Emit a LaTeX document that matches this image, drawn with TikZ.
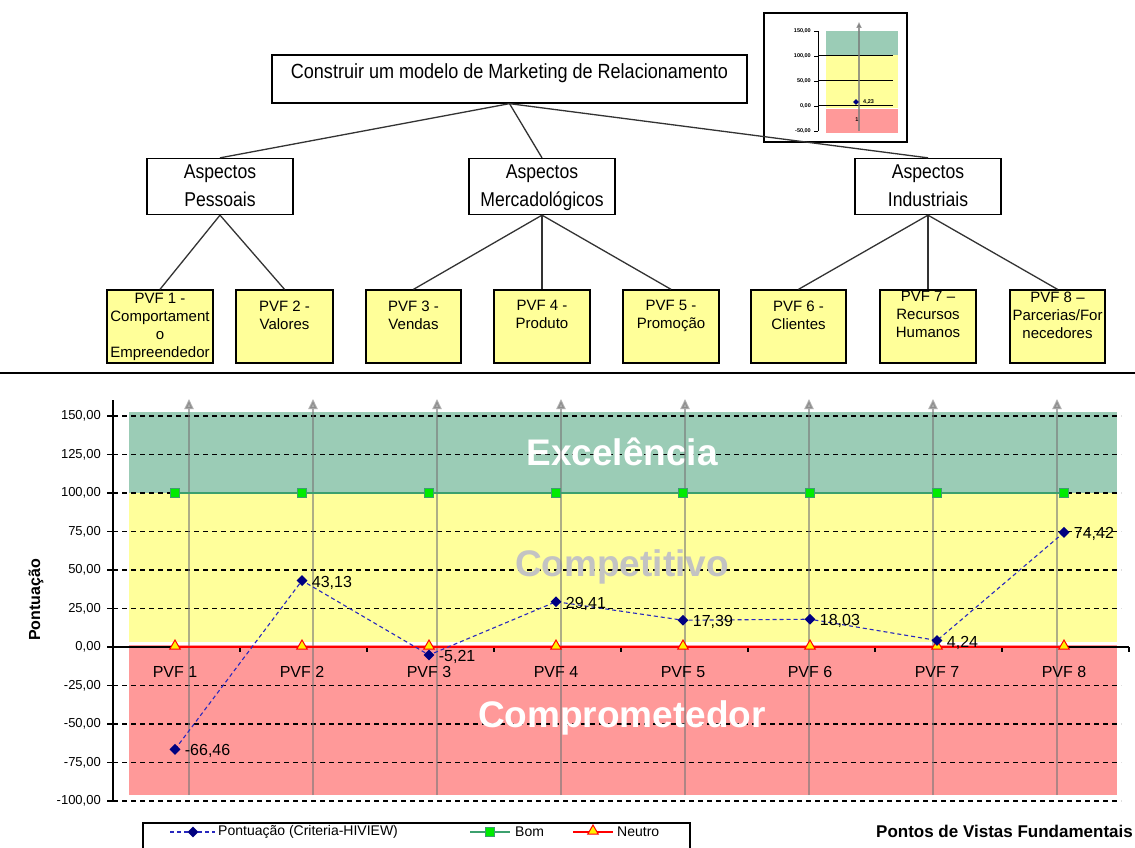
\documentclass[tikz,border=0pt]{standalone}
\usepackage{fontspec}
\setmainfont{Liberation Sans}
\newfontfamily\treefont[FakeStretch=0.88]{Liberation Sans}
\usetikzlibrary{arrows.meta,shapes.geometric}

\definecolor{excgreen}{RGB}{155,204,182}
\definecolor{compyellow}{RGB}{255,255,155}
\definecolor{comppink}{RGB}{255,153,153}
\definecolor{pvfyellow}{RGB}{255,255,153}
\definecolor{navyblue}{RGB}{0,0,128}
\definecolor{dashblue}{RGB}{40,40,190}
\definecolor{bomgreen}{RGB}{60,160,110}
\definecolor{markgreen}{RGB}{0,235,0}
\definecolor{arrowgray}{RGB}{120,120,120}
\definecolor{softgray}{RGB}{195,195,195}

\begin{document}
\begin{tikzpicture}[x=1pt,y=-1pt,
  treebox/.style={draw=black, line width=1.3, fill=white, inner sep=0, align=center},
  pvfbox/.style={draw=black, line width=1.3, fill=pvfyellow, minimum width=96, minimum height=73,
                 inner sep=0, align=center, font=\fontsize{15}{18}\selectfont},
  link/.style={draw=black!80, line width=1.3},
  grid/.style={draw=black, line width=1.2, dash pattern=on 5 off 4},
  gaxis/.style={draw=black, line width=1.2},
  vecarrow/.style={draw=arrowgray, opacity=0.6, line width=2, -{Triangle[length=10,width=9]}},
  ptmark/.style={diamond, fill=navyblue, minimum width=11, minimum height=11, inner sep=0},
  bommark/.style={rectangle, fill=markgreen, draw=bomgreen, line width=1, minimum size=9, inner sep=0},
  neumark/.style={regular polygon, regular polygon sides=3, fill=yellow, draw=red, line width=1,
                  minimum size=12, inner sep=0},
  ticklbl/.style={anchor=east, font=\fontsize{13}{15}\selectfont, inner sep=0},
  datalbl/.style={anchor=west, font=\fontsize{16}{18}\selectfont, inner sep=1},
  bandlbl/.style={font=\fontsize{37}{40}\selectfont\bfseries, inner sep=0},
  minilbl/.style={font=\fontsize{5.5}{6}\selectfont\bfseries, inner sep=0}
]
\useasboundingbox (0,0) rectangle (1135,848);
\fill[white] (0,0) rectangle (1135,848);

% ---------- small summary chart (upper right) ----------
\draw[line width=1.1, fill=white] (764,13) rectangle (907,142);
\fill[excgreen] (826,31) rectangle (898,55);
\fill[compyellow] (826,55) rectangle (898,108);
\fill[comppink] (826,109) rectangle (898,133);
\foreach \v/\t in {150/{150,00},100/{100,00},50/{50,00},0/{0,00},-50/{-50,00}}{
  \draw[line width=0.8] (814,{106-0.5*\v}) -- (818,{106-0.5*\v});
  \node[minilbl, anchor=east] at (811,{106-0.5*\v}) {\t};
}
\foreach \v in {100,50,0}{
  \draw[line width=1] (818,{106-0.5*\v}) -- (893,{106-0.5*\v});
}
\draw[line width=1] (818,31) -- (818,131);
\draw[draw=arrowgray, opacity=0.75, line width=1.5, -{Triangle[length=6,width=5]}] (859,131) -- (859,22);
\node[diamond, fill=navyblue, minimum width=6, minimum height=6, inner sep=0] (minipt) at (856,102) {};
\node[minilbl, anchor=west] (minival) at (863,102) {4,23};
\node[minilbl] (minione) at (857,120) {1};

% ---------- value tree ----------
\node[treebox, minimum width=475, minimum height=48, font=\treefont\fontsize{20.5}{10}\selectfont]
  (root) at (509.5,79) {Construir um modelo de Marketing de Relacionamento\\\strut};
\node[treebox, minimum width=146, minimum height=55, font=\treefont\fontsize{20}{28}\selectfont]
  (asp1) at (220,186.5) {\strut Aspectos\\\strut Pessoais};
\node[treebox, minimum width=146, minimum height=55, font=\treefont\fontsize{20}{28}\selectfont]
  (asp2) at (542,186.5) {\strut Aspectos\\\strut Mercadológicos};
\node[treebox, minimum width=146, minimum height=55, font=\treefont\fontsize{20}{28}\selectfont]
  (asp3) at (928,186.5) {\strut Aspectos\\\strut Industriais};

\node[pvfbox, minimum width=106] (pvf1) at (160,326.5) {PVF 1 -\\Comportament\\o\\Empreendedor};
\node[pvfbox, minimum width=97] (pvf2) at (284.5,326.5) {PVF 2 -\\Valores\\\strut};
\node[pvfbox, minimum width=95] (pvf3) at (413.5,326.5) {PVF 3 -\\Vendas\\\strut};
\node[pvfbox] (pvf4) at (542,326.5) {PVF 4 -\\Produto\\\strut};
\node[pvfbox] (pvf5) at (671,326.5) {PVF 5 -\\Promoção\\\strut};
\node[pvfbox, minimum width=95] (pvf6) at (798.5,326.5) {PVF 6 -\\Clientes\\\strut};
\node[pvfbox] (pvf7) at (928,326.5) {PVF 7 –\\Recursos\\Humanos\\\strut};
\node[pvfbox, minimum width=95] (pvf8) at (1057.5,326.5) {PVF 8 –\\Parcerias/For\\necedores\\\strut};

\draw[link] (root.south) -- (asp1.north);
\draw[link] (root.south) -- (asp2.north);
\draw[link] (root.south) -- (asp3.north);
\draw[link] (asp1.south) -- (pvf1.north);
\draw[link] (asp1.south) -- (pvf2.north);
\draw[link] (asp2.south) -- (pvf3.north);
\draw[link] (asp2.south) -- (pvf4.north);
\draw[link] (asp2.south) -- (pvf5.north);
\draw[link] (asp3.south) -- (pvf6.north);
\draw[link] (asp3.south) -- (pvf7.north);
\draw[link] (asp3.south) -- (pvf8.north);

% divider between the tree and the chart
\draw[line width=1.8] (0,373) -- (1135,373);

% ---------- profile chart ----------
% performance bands
\fill[excgreen] (129,412) rectangle (1117,493);
\fill[compyellow] (129,493) rectangle (1117,642);
\fill[comppink] (129,645) rectangle (1117,795);

% grid lines and value axis
\foreach \v/\t in {150/{150,00},125/{125,00},100/{100,00},75/{75,00},50/{50,00},25/{25,00},
                  0/{0,00},-25/{-25,00},-50/{-50,00},-75/{-75,00},-100/{-100,00}}{
  \draw[gaxis] (107,{647-1.54*\v}) -- (113,{647-1.54*\v});
  \node[ticklbl] at (101,{647-1.54*\v}) {\t};
}
\foreach \v in {150,125,100,75,50,25,-25,-50,-75,-100}{
  \draw[grid] (113,{647-1.54*\v}) -- (1121,{647-1.54*\v});
}

% band names
\node[bandlbl, text=white] (exc) at (622,452) {Excelência};
\node[bandlbl, text=softgray] (cmp) at (622,567) {Competitivo};
\node[bandlbl, text=white] (cpr) at (622,718) {Comprometedor};

% criterion arrows
\foreach \i in {1,...,8}{
  \draw[vecarrow] ({189+124*(\i-1)},795) -- ({189+124*(\i-1)},399);
}

% axes
\draw[gaxis] (113,400) -- (113,801);
\draw[gaxis] (113,647) -- (1129,647);
\foreach \i in {1,...,7}{
  \draw[gaxis] ({240+127*(\i-1)},647) -- ({240+127*(\i-1)},652);
}
\draw[gaxis] (1129,647) -- (1129,652);

% reference series: Bom (100) and Neutro (0)
\draw[draw=bomgreen, line width=1.6] (175,493) -- (1064,493);
\draw[draw=red, line width=2] (175,647) -- (1064,647);
\foreach \i in {1,...,8}{
  \node[bommark] (bom\i) at ({175+127*(\i-1)},493) {};
  \node[neumark] (neu\i) at ({175+127*(\i-1)},646) {};
  \node[font=\fontsize{16}{18}\selectfont] (cat\i) at ({175+127*(\i-1)},672) {PVF \i};
}

% scores
\foreach \i/\v in {1/-66.46,2/43.13,3/-5.21,4/29.41,5/17.39,6/18.03,7/4.24,8/74.42}{
  \coordinate (c\i) at ({175+127*(\i-1)},{647-1.54*\v});
}
\draw[draw=dashblue, line width=1.1, dash pattern=on 4 off 3]
  (c1) -- (c2) -- (c3) -- (c4) -- (c5) -- (c6) -- (c7) -- (c8);
\foreach \i/\t in {1/{-66,46},2/{43,13},3/{-5,21},4/{29,41},5/{17,39},6/{18,03},7/{4,24},8/{74,42}}{
  \node[ptmark] (p\i) at (c\i) {};
  \node[datalbl] (lab\i) at ([xshift=3pt,yshift=-2pt]p\i.east) {\t};
}

% axis titles
\node[rotate=90, font=\fontsize{16}{18}\selectfont\bfseries] (ytitle) at (36,600) {Pontuação};
\node[anchor=east, font=\fontsize{17}{19}\selectfont\bfseries, inner sep=0] (xtitle) at (1133,831) {Pontos de Vistas Fundamentais};

% legend
\draw[line width=1.1] (143,823) rectangle (690,862);
\draw[draw=dashblue, line width=1.1, dash pattern=on 4 off 3] (170,832) -- (215,832);
\node[ptmark] (legpt) at (193,832) {};
\node[anchor=west, font=\fontsize{14}{16}\selectfont, inner sep=0] (legpttxt) at (218,832) {Pontuação (Criteria-HIVIEW)};
\draw[draw=bomgreen, line width=1.6] (470,832) -- (510,832);
\node[bommark] (legbom) at (490,832) {};
\node[anchor=west, font=\fontsize{14}{16}\selectfont, inner sep=0] (legbomtxt) at (515,832) {Bom};
\draw[draw=red, line width=2] (573,832) -- (613,832);
\node[neumark] (legneu) at (593,831) {};
\node[anchor=west, font=\fontsize{14}{16}\selectfont, inner sep=0] (legneutxt) at (617,832) {Neutro};
\end{tikzpicture}
\end{document}
